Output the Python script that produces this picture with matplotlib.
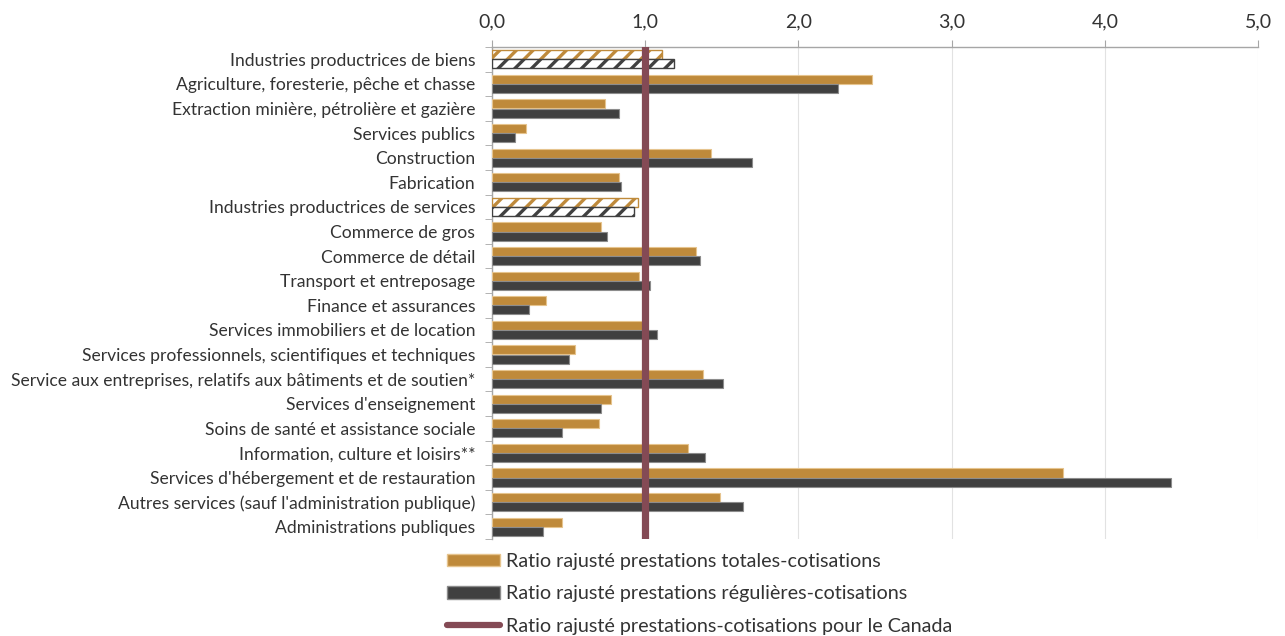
import matplotlib
matplotlib.use("Agg")
import matplotlib.pyplot as plt
from matplotlib.patches import Patch
from matplotlib.lines import Line2D
import numpy as np

plt.rcParams['font.family'] = ['Lato', 'DejaVu Sans']
plt.rcParams['hatch.linewidth'] = 2.4

categories = [
    "Industries productrices de biens",
    "Agriculture, foresterie, pêche et chasse",
    "Extraction minière, pétrolière et gazière",
    "Services publics",
    "Construction",
    "Fabrication",
    "Industries productrices de services",
    "Commerce de gros",
    "Commerce de détail",
    "Transport et entreposage",
    "Finance et assurances",
    "Services immobiliers et de location",
    "Services professionnels, scientifiques et techniques",
    "Service aux entreprises, relatifs aux bâtiments et de soutien*",
    "Services d'enseignement",
    "Soins de santé et assistance sociale",
    "Information, culture et loisirs**",
    "Services d'hébergement et de restauration",
    "Autres services (sauf l'administration publique)",
    "Administrations publiques",
]

ratio_totales = [1.11, 2.48, 0.74, 0.22, 1.43, 0.83, 0.95, 0.71, 1.33, 0.96,
                 0.35, 0.99, 0.54, 1.38, 0.78, 0.70, 1.28, 3.73, 1.49, 0.46]
ratio_regulieres = [1.19, 2.26, 0.83, 0.15, 1.70, 0.84, 0.93, 0.75, 1.36, 1.03,
                    0.24, 1.08, 0.50, 1.51, 0.71, 0.46, 1.39, 4.43, 1.64, 0.33]
canada_ratio = 1.0

# sector aggregates are drawn hatched
aggregates = ["Industries productrices de biens", "Industries productrices de services"]

x_ticks = [0, 1, 2, 3, 4, 5]
x_ticklabels = ["0,0", "1,0", "2,0", "3,0", "4,0", "5,0"]

legend_labels = [
    "Ratio rajusté prestations totales-cotisations",
    "Ratio rajusté prestations régulières-cotisations",
    "Ratio rajusté prestations-cotisations pour le Canada",
]

ORANGE = "#BF8A3B"
DARK = "#404040"
MAROON = "#844A55"
GRID = "#E2E2E2"
AXIS = "#A6A6A6"
TEXT = "#333333"

fig = plt.figure(figsize=(12.85, 6.36), dpi=100)
ax = fig.add_axes([492 / 1285, 1 - 539 / 636, (1258 - 492) / 1285, (539 - 47) / 636])

y = np.arange(len(categories))
h = 0.37

for i, cat in enumerate(categories):
    if cat in aggregates:
        ax.barh(y[i] - h / 2, ratio_totales[i], height=h, color="white",
                edgecolor=ORANGE, hatch="//", linewidth=1.0, zorder=3)
        ax.barh(y[i] + h / 2, ratio_regulieres[i], height=h, color="white",
                edgecolor=DARK, hatch="//", linewidth=1.0, zorder=3)
    else:
        ax.barh(y[i] - h / 2, ratio_totales[i], height=h, color=ORANGE,
                edgecolor="#E6C48E", linewidth=0.8, zorder=3)
        ax.barh(y[i] + h / 2, ratio_regulieres[i], height=h, color=DARK,
                edgecolor="#8C8C8C", linewidth=0.8, zorder=3)

ax.axvline(canada_ratio, color=MAROON, linewidth=5.2, zorder=4)

ax.set_xlim(0, 5)
ax.set_ylim(len(categories) - 0.5, -0.5)

ax.xaxis.tick_top()
ax.set_xticks(x_ticks)
ax.set_xticklabels(x_ticklabels, fontsize=14, color=TEXT)
ax.tick_params(axis="x", which="major", direction="out", length=5, color=AXIS,
               pad=7, top=True, bottom=False)
ax.grid(axis="x", color=GRID, linewidth=0.8, zorder=0)

ax.set_yticks(y)
ax.set_yticklabels(categories, fontsize=12.6, color=TEXT)
ax.tick_params(axis="y", which="major", length=0, pad=12)
ax.set_yticks(np.arange(len(categories) + 1) - 0.5, minor=True)
ax.tick_params(axis="y", which="minor", length=5, color=AXIS, direction="out")

for side in ["right", "bottom"]:
    ax.spines[side].set_visible(False)
for side in ["top", "left"]:
    ax.spines[side].set_color(AXIS)
    ax.spines[side].set_linewidth(1.0)

handles = [
    Patch(facecolor=ORANGE, edgecolor="#E6C48E"),
    Patch(facecolor=DARK, edgecolor="#8C8C8C"),
    Line2D([0], [0], color=MAROON, linewidth=4.5, solid_capstyle="round"),
]
fig.legend(handles, legend_labels, loc="upper left",
           bbox_to_anchor=(447 / 1285, 1 - 553 / 636), frameon=False,
           fontsize=14.2, handlelength=2.7, handleheight=0.62, handletextpad=0.3,
           labelspacing=0.78, borderaxespad=0, borderpad=0, labelcolor=TEXT)

fig.savefig("out.png", dpi=100)
